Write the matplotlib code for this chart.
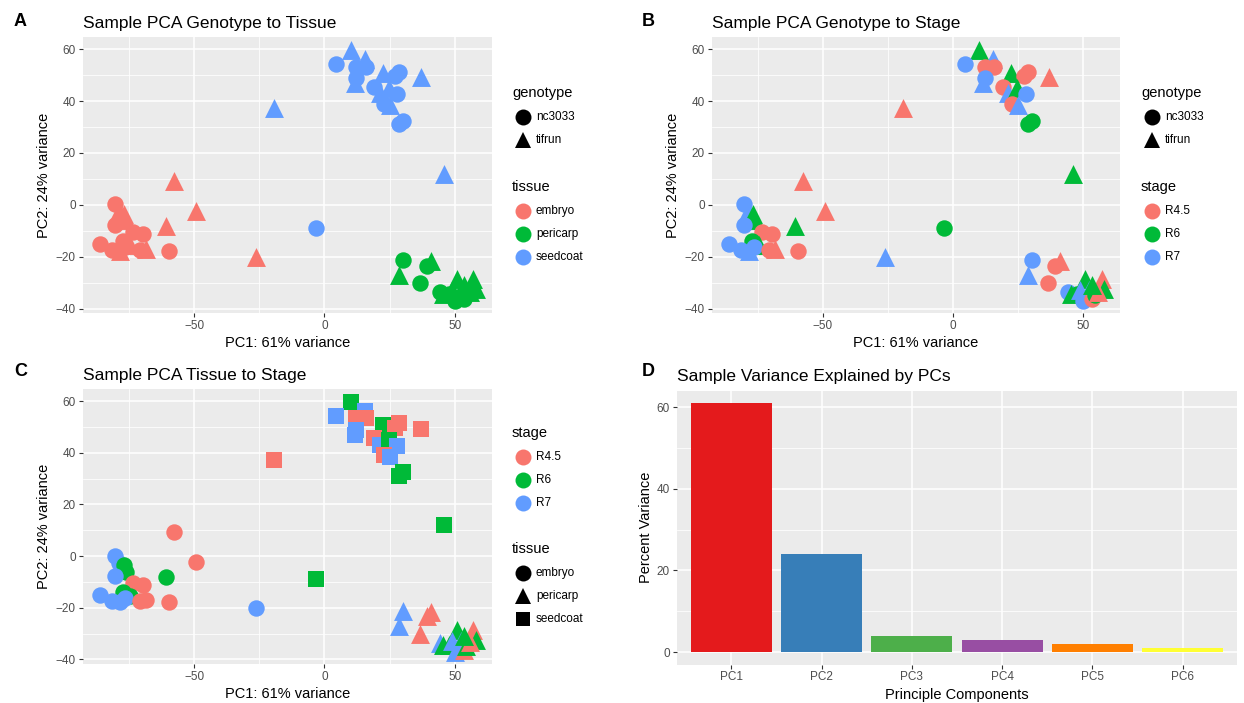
import matplotlib
matplotlib.use('Agg')
import matplotlib.pyplot as plt
from matplotlib.lines import Line2D

plt.rcParams['font.family'] = ['Liberation Sans', 'DejaVu Sans']

# PCA samples
pc1 = [-80.5, -79.0, -77.0, -76.3, -80.5, -73.5, -69.8, -77.3, -74.5, -86.0,
       -81.5, -78.6, -76.4, -70.8, -68.4, -60.8, -59.6, -57.7, -49.2, -26.1,
       10.0, 4.5, 15.4, 12.3, 15.8, 12.2, 11.6, 22.3, 28.8, 27.2,
       36.9, 19.2, 21.2, 24.6, 28.0, 22.8, 25.0, 28.8, 30.2, -3.3,
       -19.4, 46.0,
       30.2, 28.8, 39.2, 41.0, 36.5, 44.2, 45.5, 47.8, 50.7, 57.1,
       58.0, 49.0, 52.3, 50.0, 53.5, 54.5, 55.8, 53.5]
pc2 = [0.2, -2.5, -3.5, -6.0, -7.8, -10.4, -11.2, -14.0, -15.6, -15.2,
       -17.5, -17.8, -16.2, -17.5, -16.9, -8.2, -17.7, 9.2, -2.4, -20.2,
       59.7, 54.4, 56.3, 53.3, 53.3, 49.0, 46.9, 50.7, 51.4, 49.8,
       49.4, 45.6, 43.0, 45.0, 42.6, 39.0, 38.5, 31.2, 32.4, -9.0,
       37.2, 12.0,
       -21.2, -27.0, -23.4, -21.6, -30.2, -33.6, -34.3, -34.5, -28.6, -28.6,
       -32.6, -33.0, -32.8, -37.2, -36.2, -34.8, -33.4, -30.8]
genotype = ['nc3033', 'tifrun', 'tifrun', 'tifrun', 'nc3033', 'nc3033', 'nc3033', 'nc3033', 'tifrun', 'nc3033',
            'nc3033', 'tifrun', 'nc3033', 'nc3033', 'tifrun', 'tifrun', 'nc3033', 'tifrun', 'tifrun', 'tifrun',
            'tifrun', 'nc3033', 'tifrun', 'nc3033', 'nc3033', 'nc3033', 'tifrun', 'tifrun', 'nc3033', 'nc3033',
            'tifrun', 'nc3033', 'tifrun', 'tifrun', 'nc3033', 'nc3033', 'tifrun', 'nc3033', 'nc3033', 'nc3033',
            'tifrun', 'tifrun',
            'nc3033', 'tifrun', 'nc3033', 'tifrun', 'nc3033', 'nc3033', 'tifrun', 'nc3033', 'tifrun', 'tifrun',
            'tifrun', 'tifrun', 'tifrun', 'nc3033', 'nc3033', 'nc3033', 'tifrun', 'tifrun']
tissue = ['embryo'] * 20 + ['seedcoat'] * 22 + ['pericarp'] * 18
stage = ['R7', 'R7', 'R6', 'R6', 'R7', 'R4.5', 'R4.5', 'R6', 'R6', 'R7',
         'R7', 'R7', 'R7', 'R4.5', 'R4.5', 'R6', 'R4.5', 'R4.5', 'R4.5', 'R7',
         'R6', 'R7', 'R7', 'R4.5', 'R4.5', 'R7', 'R7', 'R6', 'R4.5', 'R4.5',
         'R4.5', 'R4.5', 'R7', 'R6', 'R7', 'R4.5', 'R7', 'R6', 'R6', 'R6',
         'R4.5', 'R6',
         'R7', 'R7', 'R4.5', 'R4.5', 'R4.5', 'R7', 'R6', 'R6', 'R6', 'R4.5',
         'R6', 'R7', 'R7', 'R7', 'R4.5', 'R6', 'R4.5', 'R6']

pc_names = ['PC1', 'PC2', 'PC3', 'PC4', 'PC5', 'PC6']
pc_var = [61, 24, 4, 3, 2, 1]

gg3 = ['#F8766D', '#00BA38', '#619CFF']
set1 = ['#E41A1C', '#377EB8', '#4DAF4A', '#984EA3', '#FF7F00', '#FFFF33']

tissue_col = dict(zip(['embryo', 'pericarp', 'seedcoat'], gg3))
stage_col = dict(zip(['R4.5', 'R6', 'R7'], gg3))
geno_mark = {'nc3033': 'o', 'tifrun': '^'}
tissue_mark = {'embryo': 'o', 'pericarp': '^', 'seedcoat': 's'}
mark_size = {'o': 140, '^': 185, 's': 135}

W, H = 1244, 703
fig = plt.figure(figsize=(W / 100, H / 100), dpi=100)


def px_axes(l, t, r, b):
    return fig.add_axes([l / W, 1 - b / H, (r - l) / W, (b - t) / H])


def gg_style(ax):
    ax.set_facecolor('#EBEBEB')
    for s in ax.spines.values():
        s.set_visible(False)
    ax.grid(which='major', color='white', lw=1.1)
    ax.grid(which='minor', color='white', lw=0.55)
    ax.set_axisbelow(True)
    ax.tick_params(which='major', length=3, width=0.8, color='#333333',
                   labelcolor='#4D4D4D', labelsize=8.5, pad=2)
    ax.tick_params(which='minor', length=0)


def pca_panel(ax, colors, markers, title, letter, lx, ly):
    for x, y, c, m in zip(pc1, pc2, colors, markers):
        ax.scatter(x, y, s=mark_size[m], c=c, marker=m, linewidths=0, zorder=3)
    gg_style(ax)
    ax.set_xlim(-92.8, 64.2)
    ax.set_ylim(-41.8, 64.6)
    ax.set_xticks([-50, 0, 50])
    ax.set_xticks([-75, -25, 25], minor=True)
    ax.set_yticks([-40, -20, 0, 20, 40, 60])
    ax.set_yticks([-30, -10, 10, 30, 50], minor=True)
    ax.set_xlabel('PC1: 61% variance', fontsize=10.5, labelpad=3)
    ax.set_ylabel('PC2: 24% variance', fontsize=10.5, labelpad=3)
    ax.set_title(title, loc='left', fontsize=12.5, pad=7)
    fig.text(lx / W, 1 - ly / H, letter, fontsize=13, fontweight='bold', va='center')


def legend_block(x, y, title, labels, colors, markers):
    # x, y in pixels: title position; items below
    fig.text(x / W, 1 - y / H, title, fontsize=10.5, va='center')
    for i, (lab, c, m) in enumerate(zip(labels, colors, markers)):
        yy = y + 24 + i * 23
        fig.add_artist(Line2D([(x + 11) / W], [1 - yy / H], transform=fig.transFigure,
                              marker=m, color=c, markersize=11.5 if m != 's' else 10.5,
                              markeredgewidth=0, linestyle='none'))
        fig.text((x + 24) / W, 1 - yy / H, lab, fontsize=8.5, va='center')


# A: genotype shape, tissue color
axA = px_axes(82.7, 37.3, 491.7, 313.3)
pca_panel(axA, [tissue_col[t] for t in tissue], [geno_mark[g] for g in genotype],
          'Sample PCA Genotype to Tissue', 'A', 14, 22)
legend_block(512, 93, 'genotype', ['nc3033', 'tifrun'], ['black', 'black'], ['o', '^'])
legend_block(512, 187, 'tissue', ['embryo', 'pericarp', 'seedcoat'], gg3, ['o', 'o', 'o'])

# B: genotype shape, stage color
axB = px_axes(711.7, 37.3, 1120, 313.3)
pca_panel(axB, [stage_col[s] for s in stage], [geno_mark[g] for g in genotype],
          'Sample PCA Genotype to Stage', 'B', 642, 22)
legend_block(1141, 93, 'genotype', ['nc3033', 'tifrun'], ['black', 'black'], ['o', '^'])
legend_block(1141, 187, 'stage', ['R4.5', 'R6', 'R7'], gg3, ['o', 'o', 'o'])

# C: tissue shape, stage color
axC = px_axes(82.7, 389.3, 491.7, 664)
pca_panel(axC, [stage_col[s] for s in stage], [tissue_mark[t] for t in tissue],
          'Sample PCA Tissue to Stage', 'C', 14, 372)
legend_block(512, 433, 'stage', ['R4.5', 'R6', 'R7'], gg3, ['o', 'o', 'o'])
legend_block(512, 549, 'tissue', ['embryo', 'pericarp', 'seedcoat'], ['black'] * 3, ['o', '^', 's'])

# D: variance bar chart
axD = px_axes(677, 390.5, 1237, 664.5)
xpos = list(range(1, len(pc_names) + 1))
axD.bar(xpos, pc_var, width=0.9, color=set1, zorder=3)
gg_style(axD)
axD.set_xlim(0.4, 6.6)
axD.set_ylim(-3.05, 64.05)
axD.set_xticks(xpos)
axD.set_xticklabels(pc_names)
axD.set_yticks([0, 20, 40, 60])
axD.set_yticks([10, 30, 50], minor=True)
axD.set_xlabel('Principle Components', fontsize=10.5, labelpad=3)
axD.set_ylabel('Percent Variance', fontsize=10.5, labelpad=3)
axD.set_title('Sample Variance Explained by PCs', loc='left', fontsize=12.5, pad=7)
fig.text(642 / W, 1 - 372 / H, 'D', fontsize=13, fontweight='bold', va='center')

fig.savefig('out.png', dpi=100, facecolor='white')
